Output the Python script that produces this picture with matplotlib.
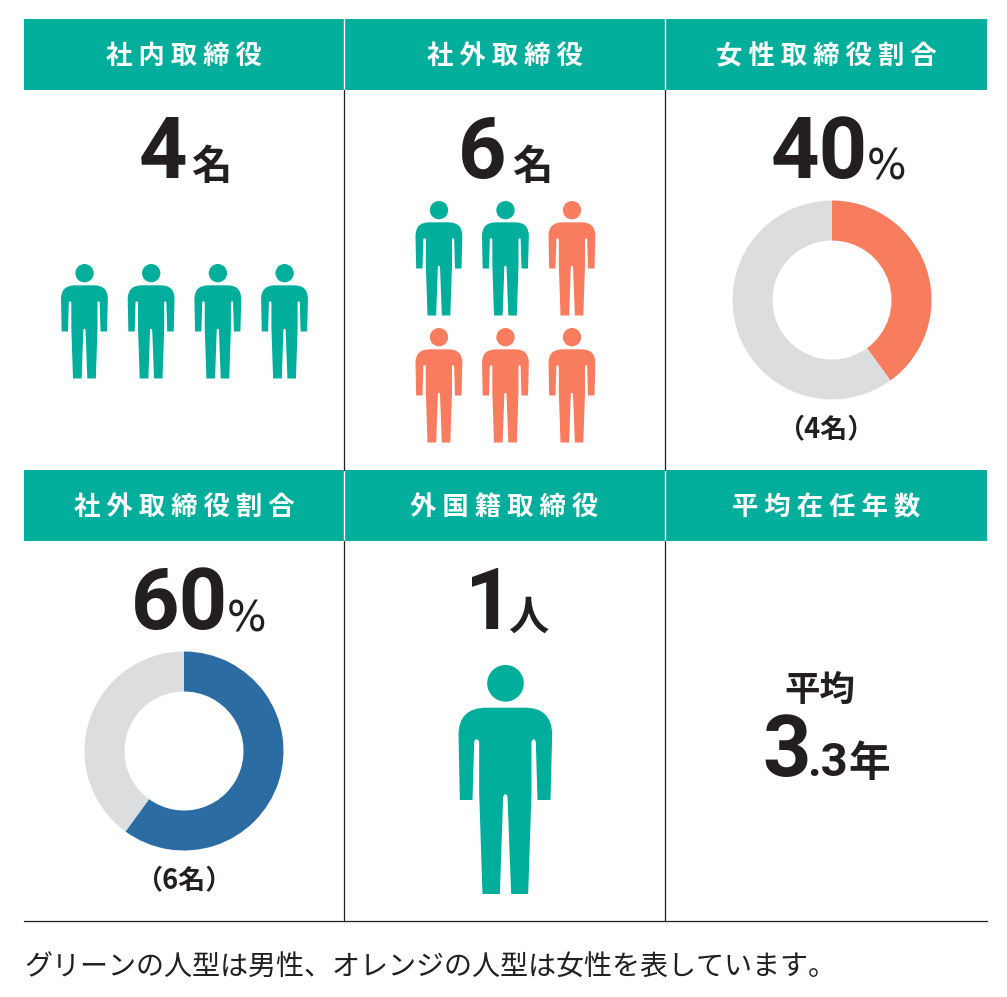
import matplotlib
matplotlib.use('Agg')
import matplotlib.pyplot as plt
from matplotlib.patches import Circle, PathPatch, Rectangle
from matplotlib.path import Path

plt.rcParams['font.family'] = ['Noto Sans CJK JP', 'DejaVu Sans']

headers_top = ['社内取締役', '社外取締役', '女性取締役割合']
headers_bottom = ['社外取締役割合', '外国籍取締役', '平均在任年数']
inside_members = ['male', 'male', 'male', 'male']
outside_members = ['male', 'male', 'female', 'female', 'female', 'female']
foreign_members = ['male']
female_ratio = [40, 60]
outside_ratio = [60, 40]
average_tenure = '3.3'
footnote = 'グリーンの人型は男性、オレンジの人型は女性を表しています。'

TEAL = '#00AE9B'
ORANGE = '#F87C5E'
BLUE = '#2B6CA3'
GRAY = '#DCDDDF'
INK = '#231F20'
LATIN = ['Roboto', 'Noto Sans CJK JP']
member_colors = {'male': TEAL, 'female': ORANGE}

W, H = 1007, 997
fig = plt.figure(figsize=(W / 100, H / 100), dpi=100)
ax = fig.add_axes([0, 0, 1, 1])


def Y(py):
    # picture is measured from the top, axes run upward
    return H - py


def draw_person(cx, top, scale, color):
    # icon outline measured on the big figure, origin at middle/top of head
    ox, oy = 197, 45
    verts = [
        (140, 173), (255, 173), (337, 173), (337, 255), (332, 450), (293, 450),
        (288, 275), (282, 260), (275, 275), (275, 430), (265, 732), (214, 732),
        (203, 440), (197, 424), (190, 440), (180, 732), (128, 732), (118, 430),
        (118, 275), (110, 260), (103, 275), (98, 450), (60, 450), (56, 255),
        (56, 173), (140, 173),
    ]
    codes = [
        Path.MOVETO, Path.LINETO, Path.CURVE3, Path.CURVE3, Path.LINETO, Path.LINETO,
        Path.LINETO, Path.CURVE3, Path.CURVE3, Path.LINETO, Path.LINETO, Path.LINETO,
        Path.LINETO, Path.CURVE3, Path.CURVE3, Path.LINETO, Path.LINETO, Path.LINETO,
        Path.LINETO, Path.CURVE3, Path.CURVE3, Path.LINETO, Path.LINETO, Path.LINETO,
        Path.CURVE3, Path.CURVE3,
    ]
    k = scale / 3
    pts = [(cx + (x - ox) * k, Y(top + (y - oy) * k)) for x, y in verts]
    ax.add_patch(PathPatch(Path(pts, codes), fc=color, ec='none'))
    ax.add_patch(Circle((cx, Y(top + 55 * k)), 55 * k, fc=color, ec='none'))


def header(label, left, right, top, bottom):
    ax.add_patch(Rectangle((left, Y(bottom)), right - left, bottom - top, fc=TEAL, ec='none'))
    ax.text((left + right) / 2, Y((top + bottom) / 2 + 2), ' '.join(label), color='white',
            fontsize=19, fontweight='bold', ha='center', va='center')


def big(x, base, s, size=61):
    ax.text(x, Y(base), s, color=INK, fontsize=size, fontweight='bold', family=LATIN,
            ha='left', va='baseline')


def percent(x, base):
    ax.text(x, Y(base), '%', color=INK, fontsize=30, family='DejaVu Sans', ha='left', va='baseline')


def unit(x, base, s, size=29):
    ax.text(x, Y(base), s, color=INK, fontsize=size, fontweight='bold', ha='left', va='baseline')


def donut(values, colors, cx, cy):
    ax.pie(values, colors=colors, center=(cx, Y(cy)), radius=99.5, startangle=90,
           counterclock=False, frame=True, wedgeprops=dict(width=40, linewidth=0))


# header bands and rules
cols = [24, 344, 665, 987]
for i in range(3):
    header(headers_top[i], cols[i], cols[i + 1], 19, 90)
    header(headers_bottom[i], cols[i], cols[i + 1], 470, 541)
for x in cols[1:3]:
    ax.plot([x, x], [Y(19), Y(90)], color='white', lw=1)
    ax.plot([x, x], [Y(470), Y(541)], color='white', lw=1)
    ax.plot([x, x], [Y(90), Y(470)], color=INK, lw=0.9)
    ax.plot([x, x], [Y(541), Y(921)], color=INK, lw=0.9)
ax.plot([24, 987], [Y(921), Y(921)], color=INK, lw=0.9)

# inside directors
big(139, 178, str(len(inside_members)))
unit(191, 179, '名')
for i, kind in enumerate(inside_members):
    draw_person(84.5 + 66.7 * i, 264, 0.5, member_colors[kind])

# outside directors
big(458, 178, str(len(outside_members)))
unit(512, 179, '名')
for i, kind in enumerate(outside_members):
    draw_person(439 + 66.5 * (i % 3), 201 + 127 * (i // 3), 0.5, member_colors[kind])

# female ratio
big(771, 178, str(female_ratio[0]))
percent(867, 180)
donut(female_ratio, [ORANGE, GRAY], 832, 300)
ax.text(826, Y(429), '（4名）', color=INK, fontsize=19.5, fontweight='bold', ha='center', va='center')

# outside ratio
big(131, 629, str(outside_ratio[0]))
percent(227, 631)
donut(outside_ratio, [BLUE, GRAY], 184, 751)
ax.text(184, Y(880), '（6名）', color=INK, fontsize=19.5, fontweight='bold', ha='center', va='center')

# foreign directors
big(465, 629, str(len(foreign_members)))
unit(508, 630, '人')
for kind in foreign_members:
    draw_person(505.5, 665, 1.0, member_colors[kind])

# tenure
unit(784, 701, '平均', size=25.5)
whole, frac = average_tenure.split('.')
big(762, 776, whole)
big(807, 776, '.' + frac, size=34)
unit(848, 776, '年', size=30)

ax.text(24, Y(968), footnote, color=INK, fontsize=20.2, ha='left', va='center')

ax.set_xlim(0, W)
ax.set_ylim(0, H)
ax.set_aspect('auto')
ax.axis('off')
fig.savefig('out.png', dpi=100, facecolor='white')
